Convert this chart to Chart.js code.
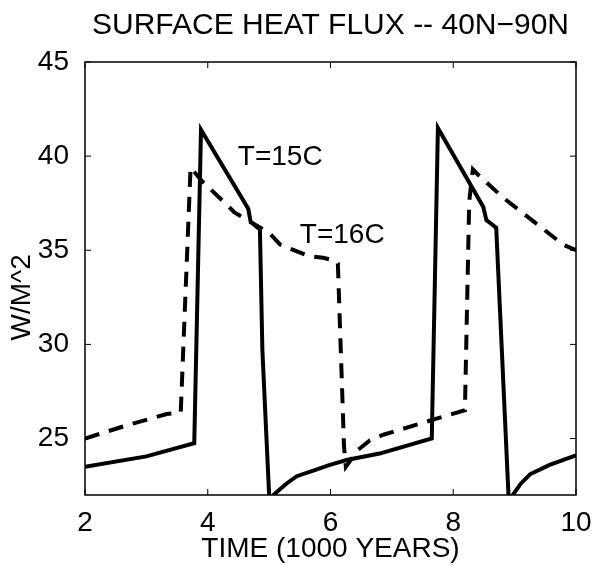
<!DOCTYPE html>
<html>
<head>
<meta charset="utf-8">
<script src="https://cdn.jsdelivr.net/npm/chart.js@4.4.1/dist/chart.umd.min.js"></script>
<style>
  html, body { margin: 0; padding: 0; background: #fff; }
  #wrap { width: 595px; height: 565px; }
</style>
</head>
<body>
<div id="wrap"><canvas id="fluxChart"></canvas></div>
<script>
// T=15C run (solid)
const time15 = [2.0, 3.0, 3.78, 3.89, 4.66, 4.70, 4.85, 4.89, 5.0, 5.03, 5.07, 5.28, 5.45, 5.72, 5.99, 6.26, 6.8, 7.65,
                7.75, 8.49, 8.54, 8.70, 8.90, 8.93, 8.97, 9.1, 9.25, 9.57, 10.0];
const flux15 = [23.5, 24.05, 24.75, 41.4, 37.2, 36.5, 36.1, 29.7, 22.0, 21.7, 22.0, 22.6, 23.0, 23.3, 23.6, 23.86, 24.2, 25.0,
                41.5, 37.3, 36.6, 36.2, 22.0, 21.7, 22.0, 22.6, 23.1, 23.6, 24.1];

// T=16C run (dashed)
const time16 = [2.0, 2.68, 3.33, 3.56, 3.72, 3.9, 4.25, 4.44, 5.01, 5.18, 5.64, 5.88, 6.07, 6.12, 6.22, 6.25, 6.45, 6.64,
                6.86, 7.67, 8.19, 8.26, 8.32, 8.41, 8.81, 9.36, 9.79, 10.0];
const flux16 = [25.0, 25.7, 26.3, 26.4, 39.4, 38.7, 37.6, 37.0, 35.9, 35.3, 34.7, 34.6, 34.45, 34.3, 24.6, 23.5, 24.4, 24.9,
                25.2, 26.0, 26.5, 37.6, 39.3, 39.0, 37.8, 36.4, 35.3, 35.0];

const xTicks = [2, 4, 6, 8, 10];
const yTicks = [25, 30, 35, 40, 45];

const labels = [
  { text: 'T=15C', x: 4.49, y: 39.95 },
  { text: 'T=16C', x: 5.5, y: 35.8 }
];

const FONT = '"Liberation Sans", Arial, Helvetica, sans-serif';

const toPoints = (xs, ys) => xs.map((x, i) => ({ x: x, y: ys[i] }));

// box round the plot, inward ticks on all four sides, the y title and the two curve labels
const frameAndLabels = {
  id: 'frameAndLabels',
  afterDatasetsDraw(chart) {
    const { ctx, chartArea: a, scales } = chart;
    const tl = 6;
    ctx.save();
    ctx.strokeStyle = '#000';
    ctx.lineWidth = 1.5;
    ctx.strokeRect(a.left, a.top, a.right - a.left, a.bottom - a.top);
    ctx.lineWidth = 1;
    ctx.beginPath();
    xTicks.forEach(v => {
      const px = scales.x.getPixelForValue(v);
      ctx.moveTo(px, a.bottom); ctx.lineTo(px, a.bottom - tl);
      ctx.moveTo(px, a.top); ctx.lineTo(px, a.top + tl);
    });
    yTicks.forEach(v => {
      const py = scales.y.getPixelForValue(v);
      ctx.moveTo(a.left, py); ctx.lineTo(a.left + tl, py);
      ctx.moveTo(a.right, py); ctx.lineTo(a.right - tl, py);
    });
    ctx.stroke();

    ctx.fillStyle = '#000';
    ctx.font = '28px ' + FONT;
    ctx.textAlign = 'left';
    ctx.textBaseline = 'middle';
    labels.forEach(l => {
      ctx.fillText(l.text, scales.x.getPixelForValue(l.x), scales.y.getPixelForValue(l.y));
    });

    // y axis title, sitting a little below the middle of the axis
    ctx.translate(22, scales.y.getPixelForValue(32.5));
    ctx.rotate(-Math.PI / 2);
    ctx.textAlign = 'center';
    ctx.fillText('W/M^2', 0, 0);
    ctx.restore();
  }
};

new Chart(document.getElementById('fluxChart'), {
  type: 'line',
  data: {
    datasets: [
      {
        label: 'T=15C',
        data: toPoints(time15, flux15),
        borderColor: '#000',
        borderWidth: 4,
        pointRadius: 0,
        tension: 0,
        clip: 0
      },
      {
        label: 'T=16C',
        data: toPoints(time16, flux16),
        borderColor: '#000',
        borderWidth: 4,
        borderDash: [15, 10],
        pointRadius: 0,
        tension: 0,
        clip: 0
      }
    ]
  },
  options: {
    responsive: true,
    maintainAspectRatio: false,
    animation: false,
    layout: { padding: { left: 0, right: 19, top: 0, bottom: 0 } },
    plugins: {
      legend: { display: false },
      tooltip: { enabled: false },
      title: {
        display: true,
        text: 'SURFACE HEAT FLUX -- 40N\u221290N',
        color: '#000',
        fullSize: false,
        font: { family: FONT, size: 30, weight: 'normal' },
        padding: { top: 8, bottom: 18 }
      }
    },
    scales: {
      x: {
        type: 'linear',
        min: 2,
        max: 10,
        afterBuildTicks: s => { s.ticks = xTicks.map(v => ({ value: v })); },
        afterFit: s => { s.height = 70; },
        grid: { display: false },
        border: { display: false },
        ticks: { color: '#000', padding: 3, font: { family: FONT, size: 28 } },
        title: {
          display: true,
          text: 'TIME (1000 YEARS)',
          color: '#000',
          font: { family: FONT, size: 28 },
          padding: { top: 0, bottom: -1 }
        }
      },
      y: {
        min: 22,
        max: 45,
        afterBuildTicks: s => { s.ticks = yTicks.map(v => ({ value: v })); },
        afterFit: s => { s.width = 85; },
        grid: { display: false },
        border: { display: false },
        ticks: { color: '#000', padding: 8, font: { family: FONT, size: 28 } }
      }
    }
  },
  plugins: [frameAndLabels]
});
</script>
</body>
</html>
